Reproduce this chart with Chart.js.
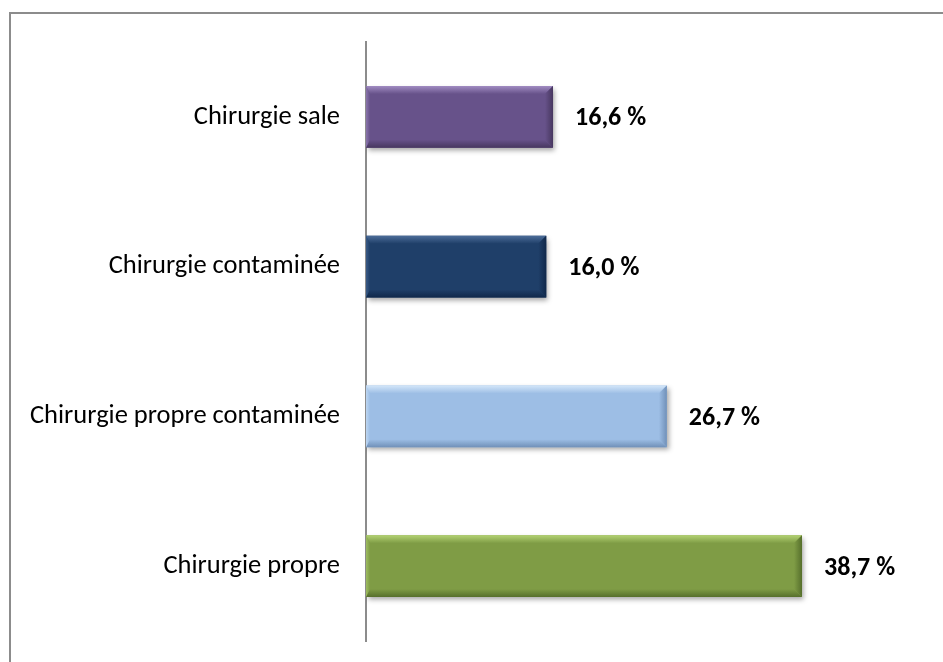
<!DOCTYPE html>
<html>
<head>
<meta charset="utf-8">
<script src="https://cdn.jsdelivr.net/npm/chart.js@4"></script>
<style>
  html, body { margin: 0; padding: 0; background: #fff; }
  #wrap { position: relative; width: 943px; height: 662px; overflow: hidden; }
  #frame { position: absolute; left: 9px; top: 12px; width: 960px; height: 700px;
           border-top: 2px solid #8c8c8c; border-left: 2px solid #8c8c8c; box-sizing: border-box; }
  canvas { position: absolute; left: 0; top: 0; }
</style>
</head>
<body>
<div id="wrap">
  <div id="frame"></div>
  <canvas id="c" width="943" height="662"></canvas>
</div>
<script>
const categories = ["Chirurgie sale", "Chirurgie contaminée", "Chirurgie propre contaminée", "Chirurgie propre"];
const values = [16.6, 16.0, 26.7, 38.7];
const valueLabels = ["16,6 %", "16,0 %", "26,7 %", "38,7 %"];
const baseColors = ["#67528a", "#1f3f69", "#9dbee5", "#7f9c45"];
const lightColors = ["#a18cc2", "#4d6d99", "#d3e6f9", "#b3d273"];
const darkColors = ["#47375f", "#10284a", "#7090b8", "#566f2c"];

const FONT = "Calibri, Carlito, 'Open Sans', sans-serif";

const bevelPlugin = {
  id: 'bevel',
  beforeDatasetsDraw(chart) {
    const ctx = chart.ctx;
    ctx.save();
    ctx.shadowColor = 'rgba(0,0,0,0.35)';
    ctx.shadowBlur = 5;
    ctx.shadowOffsetX = 2;
    ctx.shadowOffsetY = 3;
  },
  afterDatasetsDraw(chart) {
    const ctx = chart.ctx;
    ctx.restore();
    const meta = chart.getDatasetMeta(0);
    meta.data.forEach((bar, i) => {
      const p = bar.getProps(['x', 'y', 'base', 'height'], true);
      const L = p.base, R = p.x, T = p.y - p.height / 2, B = p.y + p.height / 2;
      const b = 8;
      ctx.save();
      // top
      let g = ctx.createLinearGradient(0, T, 0, T + b);
      g.addColorStop(0, lightColors[i]); g.addColorStop(1, baseColors[i]);
      ctx.fillStyle = g;
      ctx.beginPath();
      ctx.moveTo(L, T); ctx.lineTo(R, T); ctx.lineTo(R - b, T + b); ctx.lineTo(L + b * 0.5, T + b); ctx.closePath(); ctx.fill();
      // bottom
      g = ctx.createLinearGradient(0, B - b, 0, B);
      g.addColorStop(0, baseColors[i]); g.addColorStop(1, darkColors[i]);
      ctx.fillStyle = g;
      ctx.beginPath();
      ctx.moveTo(L, B); ctx.lineTo(R, B); ctx.lineTo(R - b, B - b); ctx.lineTo(L + b * 0.5, B - b); ctx.closePath(); ctx.fill();
      // right
      g = ctx.createLinearGradient(R - b, 0, R, 0);
      g.addColorStop(0, baseColors[i]); g.addColorStop(1, darkColors[i]);
      ctx.fillStyle = g;
      ctx.beginPath();
      ctx.moveTo(R, T); ctx.lineTo(R, B); ctx.lineTo(R - b, B - b); ctx.lineTo(R - b, T + b); ctx.closePath(); ctx.fill();
      // left
      g = ctx.createLinearGradient(L, 0, L + b * 0.5, 0);
      g.addColorStop(0, lightColors[i]); g.addColorStop(1, baseColors[i]);
      ctx.globalAlpha = 0.6;
      ctx.fillStyle = g;
      ctx.beginPath();
      ctx.moveTo(L, T); ctx.lineTo(L + b * 0.5, T + b); ctx.lineTo(L + b * 0.5, B - b); ctx.lineTo(L, B); ctx.closePath(); ctx.fill();
      ctx.globalAlpha = 1;
      // value label
      ctx.fillStyle = '#000';
      ctx.font = "bold 26px " + FONT;
      ctx.textAlign = 'left';
      ctx.textBaseline = 'middle';
      ctx.fillText(valueLabels[i], R + 22, p.y + 2);
      ctx.restore();
    });
  }
};

new Chart(document.getElementById('c'), {
  type: 'bar',
  data: {
    labels: categories,
    datasets: [{
      data: values,
      backgroundColor: baseColors,
      borderWidth: 0,
      barPercentage: 0.55,
      categoryPercentage: 0.75
    }]
  },
  options: {
    indexAxis: 'y',
    responsive: false,
    animation: false,
    events: [],
    layout: { padding: { left: 0, right: 70, top: 42, bottom: 21 } },
    plugins: { legend: { display: false }, tooltip: { enabled: false } },
    scales: {
      x: {
        display: false,
        min: 0,
        max: 45
      },
      y: {
        afterFit(scale) { scale.width = 366; scale.paddingTop = 0; scale.paddingBottom = 0; },
        grid: { display: false, drawTicks: false },
        border: { display: true, color: '#8c8c8c', width: 2 },
        ticks: {
          color: '#000',
          padding: 26,
          font: { family: FONT, size: 26.5 }
        }
      }
    }
  },
  plugins: [bevelPlugin]
});
</script>
</body>
</html>
